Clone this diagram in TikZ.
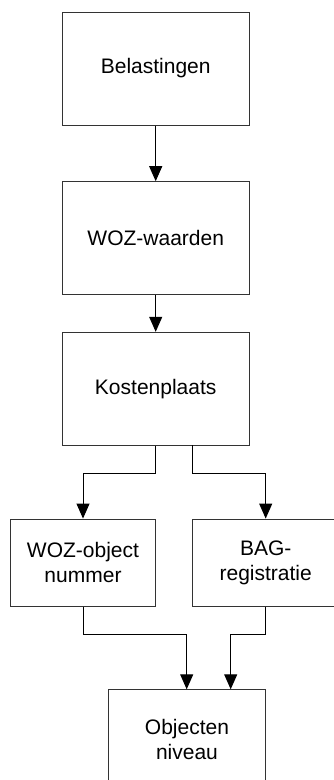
\documentclass[tikz,border=0pt]{standalone}
\usepackage{fontspec}
\setmainfont{Liberation Sans}
\usetikzlibrary{arrows.meta}
\tikzset{
  box/.style={draw=black!80, line width=1pt, fill=white, align=center, inner sep=0pt,
    font=\fontsize{21}{25}\selectfont},
  arr/.style={draw=black, line width=1pt, -{Triangle[width=13pt,length=15pt]}}
}
\begin{document}
\begin{tikzpicture}[x=1pt,y=-1pt]
\clip (0,0) rectangle (334,780);
\node[box, minimum width=187pt, minimum height=113pt] (b1) at (155.7,68.5) {Belastingen};
\node[box, minimum width=187pt, minimum height=113pt] (b2) at (155.7,238.2) {WOZ-waarden};
\node[box, minimum width=187pt, minimum height=113pt] (b3) at (155.7,388.8) {Kostenplaats};
\node[box, minimum width=144.7pt, minimum height=87.3pt] (b4) at (83,562.7) {WOZ-object\\nummer};
\node[box, minimum width=146pt, minimum height=87.3pt] (b5) at (265.7,562.7) {BAG-\\registratie};
\node[box, minimum width=157.4pt, minimum height=100pt] (b6) at (187,739.3) {Objecten\\niveau};
\coordinate (k1) at (155.7,473.3);
\coordinate (k2) at (192.7,473.3);
\coordinate (s1) at (192.7,445.3);
\coordinate (m1) at (83,634.3);
\coordinate (m2) at (265.7,634.3);
\coordinate (t1) at (186.7,689.3);
\coordinate (t2) at (230.7,689.3);
\draw[arr] (b1.south) -- (b2.north);
\draw[arr] (b2.south) -- (b3.north);
\draw[arr] (b3.south) -- (k1) -| (b4.north);
\draw[arr] (s1) -- (k2) -| (b5.north);
\draw[arr] (b4.south) -- (m1) -| (t1);
\draw[arr] (b5.south) -- (m2) -| (t2);
\end{tikzpicture}
\end{document}
